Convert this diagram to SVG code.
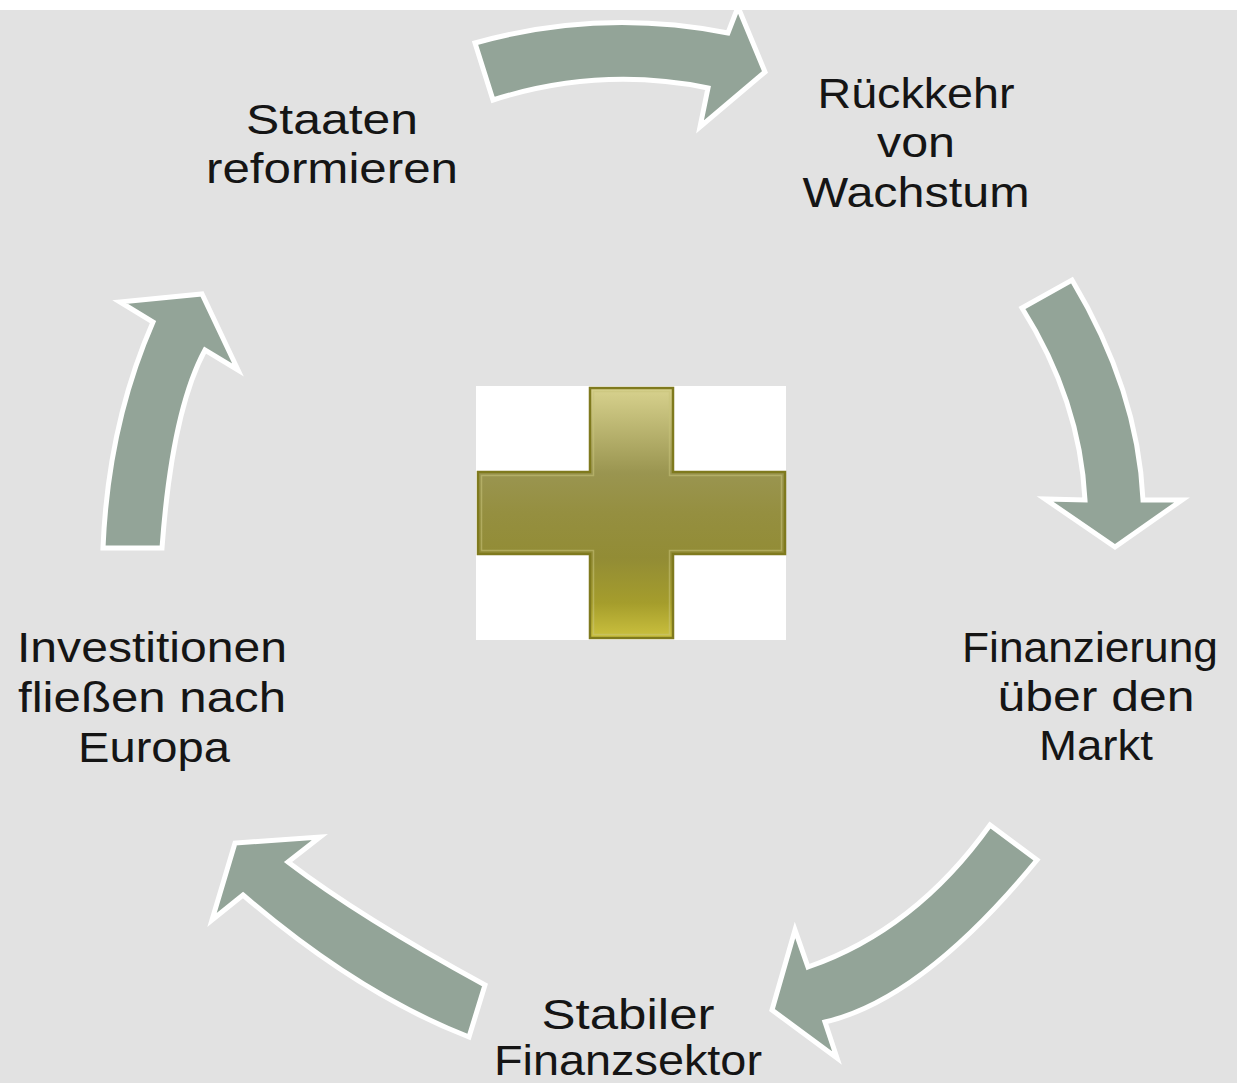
<svg xmlns="http://www.w3.org/2000/svg" width="1237" height="1083" viewBox="0 0 1237 1083">
  <defs>
    <style>
      .arrow { fill: #93a498; stroke: #ffffff; stroke-width: 5; stroke-linejoin: miter; }
      .lbl { font-family: "Liberation Sans", Arial, sans-serif; font-size: 43px; fill: #151515; text-anchor: middle; }
    </style>
    <linearGradient id="crossGrad" x1="0" y1="388" x2="0" y2="638" gradientUnits="userSpaceOnUse">
      <stop offset="0" stop-color="#d8d28e"/>
      <stop offset="0.34" stop-color="#9a9550"/>
      <stop offset="0.5" stop-color="#958f40"/>
      <stop offset="0.68" stop-color="#928c35"/>
      <stop offset="0.86" stop-color="#a59d2c"/>
      <stop offset="1" stop-color="#cbc13e"/>
    </linearGradient>
  </defs>

  <rect x="0" y="0" width="1237" height="1083" fill="#ffffff"/>
  <rect x="0" y="10" width="1237" height="1073" fill="#e2e2e2"/>

  <g id="connectors">
    <path id="arrow-top" class="arrow" d="M 475 43 Q 600 8 728 33 L 738 7 L 765 72 L 700 127 L 708 88 Q 600 66 493 100 Z"/>
    <path id="arrow-right" class="arrow" d="M 1072 280 Q 1138 390 1143 500 L 1182 500 L 1115 547 L 1045 499 L 1085 500 Q 1080 400 1022 308 Z"/>
    <path id="arrow-bottom-right" class="arrow" d="M 990 825 L 1037 860 Q 923 999 825 1022 L 837 1058 L 772 1010 L 795 930 L 808 967 Q 915 930 990 825 Z"/>
    <path id="arrow-bottom-left" class="arrow" d="M 485 985 Q 360 917 288 862 L 320 837 L 235 843 L 212 920 L 243 895 Q 358 994 469 1037 Z"/>
    <path id="arrow-left" class="arrow" d="M 103 548 Q 108 425 153 322 L 120 302 L 202 294 L 238 370 L 205 350 Q 172 411 162 548 Z"/>
  </g>

  <g id="node-staaten">
    <text class="lbl" x="332" y="134" textLength="172" lengthAdjust="spacingAndGlyphs">Staaten</text>
    <text class="lbl" x="332" y="183" textLength="252" lengthAdjust="spacingAndGlyphs">reformieren</text>
  </g>

  <g id="node-rueckkehr">
    <text class="lbl" x="916" y="108" textLength="197" lengthAdjust="spacingAndGlyphs">Rückkehr</text>
    <text class="lbl" x="916" y="157" textLength="78" lengthAdjust="spacingAndGlyphs">von</text>
    <text class="lbl" x="916" y="207" textLength="227" lengthAdjust="spacingAndGlyphs">Wachstum</text>
  </g>

  <g id="node-finanzierung">
    <text class="lbl" x="1090" y="662" textLength="256" lengthAdjust="spacingAndGlyphs">Finanzierung</text>
    <text class="lbl" x="1096" y="711" textLength="197" lengthAdjust="spacingAndGlyphs">über den</text>
    <text class="lbl" x="1096" y="760" textLength="114" lengthAdjust="spacingAndGlyphs">Markt</text>
  </g>

  <g id="node-stabiler">
    <text class="lbl" x="628" y="1029" textLength="173" lengthAdjust="spacingAndGlyphs">Stabiler</text>
    <text class="lbl" x="628" y="1075" textLength="268" lengthAdjust="spacingAndGlyphs">Finanzsektor</text>
  </g>

  <g id="node-investitionen">
    <text class="lbl" x="152" y="662" textLength="270" lengthAdjust="spacingAndGlyphs">Investitionen</text>
    <text class="lbl" x="152" y="712" textLength="268" lengthAdjust="spacingAndGlyphs">fließen nach</text>
    <text class="lbl" x="154" y="762" textLength="152" lengthAdjust="spacingAndGlyphs">Europa</text>
  </g>

  <g id="center-cross">
    <rect x="476" y="386" width="310" height="254" fill="#ffffff"/>
    <path d="M 590 388 H 673 V 472 H 785 V 554 H 673 V 638 H 590 V 554 H 478 V 472 H 590 Z" fill="url(#crossGrad)" stroke="#7f7a1e" stroke-width="2.5"/>
    <path d="M 593.5 391.5 H 669.5 V 475.5 H 781.5 V 550.5 H 669.5 V 634.5 H 593.5 V 550.5 H 481.5 V 475.5 H 593.5 Z" fill="none" stroke="#c9c37a" stroke-opacity="0.55" stroke-width="1.5"/>
  </g>
</svg>
